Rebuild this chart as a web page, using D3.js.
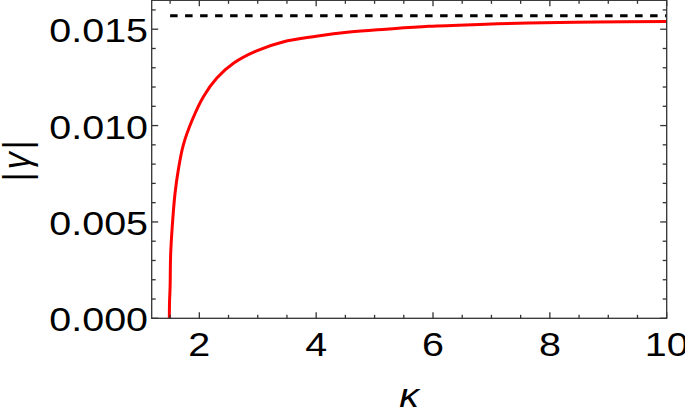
<!DOCTYPE html>
<html>
<head>
<meta charset="utf-8">
<script src="https://cdn.jsdelivr.net/npm/d3@7"></script>
<style>
  body { margin: 0; background: #fff; }
  text { font-family: "Liberation Sans", Arial, sans-serif; fill: #000; }
</style>
</head>
<body>
<div id="chart"></div>
<script>
// curve: kappa vs |gamma|
const kappa = [1.487, 1.49, 1.5, 1.51, 1.545, 1.585, 1.64, 1.727, 1.88, 2.07, 2.3, 2.59, 2.98, 3.43, 4.0, 4.57, 5.2, 5.93, 6.8, 7.63, 8.8, 10];
const gamma = [0, 0.0008, 0.00164, 0.00337, 0.00511, 0.0065, 0.0077, 0.009, 0.0103, 0.0115, 0.01247, 0.01325, 0.01388, 0.01434, 0.01463, 0.01485, 0.015, 0.01515, 0.01525, 0.01532, 0.01537, 0.0154];
// asymptote (dashed)
const limitKappa = [1.5, 10];
const limitGamma = 0.0157;

const xTicks = [2, 4, 6, 8, 10];
const yTicks = [0, 0.005, 0.01, 0.015];

const W = 685, H = 408;
const pLeft = 151.7, pRight = 666.7, pTop = 0.3, pBottom = 318.3;
const sx = 1.16; // glyphs in the picture are a bit wide

const svg = d3.select("#chart").append("svg")
  .attr("width", W).attr("height", H);

const x = d3.scaleLinear().domain([1.185, 10]).range([pLeft, pRight]);
const y = d3.scaleLinear().domain([0, 0.0165]).range([pBottom, pTop]);

// curve
const pts = kappa.map((k, i) => [k, gamma[i]]);
const line = d3.line()
  .x((d) => x(d[0]))
  .y((d) => y(d[1]))
  .curve(d3.curveCatmullRom.alpha(0.5));

svg.append("path")
  .datum(pts)
  .attr("d", line)
  .attr("fill", "none")
  .attr("stroke", "#ff0000")
  .attr("stroke-width", 3);

// dashed limit
svg.append("line")
  .attr("x1", x(limitKappa[0])).attr("x2", x(limitKappa[1]))
  .attr("y1", y(limitGamma)).attr("y2", y(limitGamma))
  .attr("stroke", "#000")
  .attr("stroke-width", 3)
  .attr("stroke-dasharray", "7.5,7.5");

// frame with inward ticks on every side
const frameColor = "#333";
const axes = svg.append("g").attr("stroke", frameColor).attr("stroke-width", 1.3);

const xMinor = d3.range(1.5, 10.01, 0.5).filter((v) => Math.abs(v / 2 - Math.round(v / 2)) > 1e-6);
const yMinor = d3.range(0.001, 0.0165, 0.001).filter((v) => Math.abs(v / 0.005 - Math.round(v / 0.005)) > 1e-6);

xTicks.concat(xMinor).forEach((v) => {
  const len = xTicks.includes(v) ? 6 : 3.5;
  axes.append("line").attr("x1", x(v)).attr("x2", x(v)).attr("y1", pBottom).attr("y2", pBottom - len);
  axes.append("line").attr("x1", x(v)).attr("x2", x(v)).attr("y1", pTop).attr("y2", pTop + len);
});
yTicks.concat(yMinor).forEach((v) => {
  const len = yTicks.includes(v) ? 6.5 : 4;
  axes.append("line").attr("y1", y(v)).attr("y2", y(v)).attr("x1", pLeft).attr("x2", pLeft + len);
  axes.append("line").attr("y1", y(v)).attr("y2", y(v)).attr("x1", pRight).attr("x2", pRight - len);
});

axes.append("rect")
  .attr("x", pLeft).attr("y", pTop)
  .attr("width", pRight - pLeft).attr("height", pBottom - pTop)
  .attr("fill", "none");

// tick labels
const fmt = d3.format(".3f");
svg.append("g").selectAll("text")
  .data(yTicks)
  .enter()
  .append("text")
  .attr("transform", (d) => `translate(148,${y(d) + 13}) scale(${sx},1)`)
  .attr("text-anchor", "end")
  .style("font-size", "34px")
  .text(fmt);

svg.append("g").selectAll("text")
  .data(xTicks)
  .enter()
  .append("text")
  .attr("transform", (d) => `translate(${x(d)},356) scale(${sx},1)`)
  .attr("text-anchor", "middle")
  .style("font-size", "34px")
  .text((d) => d);

// axis titles
svg.append("text")
  .attr("transform", `translate(${(pLeft + pRight) / 2},407) scale(${sx},1)`)
  .attr("text-anchor", "middle")
  .style("font-size", "34px")
  .style("font-style", "italic")
  .text("κ");

svg.append("text")
  .attr("transform", `translate(30,${(pTop + pBottom) / 2}) scale(${sx},1) rotate(-90)`)
  .attr("text-anchor", "middle")
  .style("font-size", "34px")
  .style("letter-spacing", "3px")
  .html('|<tspan style="font-style:italic">γ</tspan>|');
</script>
</body>
</html>
